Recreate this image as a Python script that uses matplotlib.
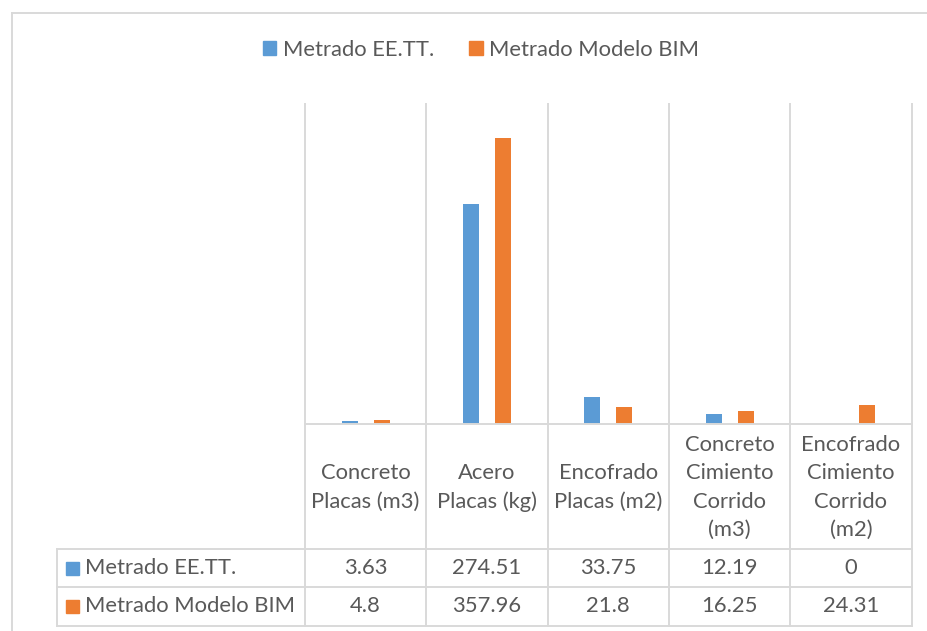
import numpy as np
import matplotlib
matplotlib.use("Agg")
import matplotlib.pyplot as plt
from matplotlib.patches import Rectangle, Patch
from matplotlib.lines import Line2D

plt.rcParams['font.family'] = ['Lato', 'DejaVu Sans']

# ---- data ----
categories = ["Concreto\nPlacas (m3)", "Acero\nPlacas (kg)", "Encofrado\nPlacas (m2)",
              "Concreto\nCimiento\nCorrido\n(m3)", "Encofrado\nCimiento\nCorrido\n(m2)"]
series_names = ["Metrado EE.TT.", "Metrado Modelo BIM"]
ee_tt = [3.63, 274.51, 33.75, 12.19, 0]
bim = [4.8, 357.96, 21.8, 16.25, 24.31]
y_max = 400

# ---- style ----
blue = "#5B9BD5"
orange = "#ED7D31"
grid_c = "#D9D9D9"
text_c = "#595959"
fs = 15.8

W, H = 928, 631
fig = plt.figure(figsize=(W / 100, H / 100), dpi=100)

# plot area in pixels
PL, PR, PT, PB = 305, 911.5, 104, 424
ax = fig.add_axes([PL / W, 1 - PB / H, (PR - PL) / W, (PB - PT) / H])
ax.axis('off')
ax.set_xlim(-0.5, len(categories) - 0.5)
ax.set_ylim(0, y_max)

x = np.arange(len(categories))
bw = 0.132
ax.bar(x - bw, ee_tt, width=bw, color=blue, zorder=3)
ax.bar(x + bw, bim, width=bw, color=orange, zorder=3)

tr = ax.get_xaxis_transform()
def ay(py):
    return (PB - py) / (PB - PT)
def dx(px):
    return (px - PL) / ((PR - PL) / len(categories)) - 0.5

# table geometry (pixels)
T_HEAD = 549
T_ROW1 = 587
T_BOT = 626
T_LEFT = 57

lw = 1.4
for b in np.arange(-0.5, len(categories), 1.0):
    ax.plot([b, b], [ay(T_BOT), 1], transform=tr, clip_on=False, color=grid_c, lw=lw, zorder=1)
ax.plot([-0.5, len(categories) - 0.5], [0, 0], transform=tr, clip_on=False, color=grid_c, lw=lw, zorder=4)
for py in (T_HEAD, T_ROW1, T_BOT):
    ax.plot([dx(T_LEFT), len(categories) - 0.5], [ay(py), ay(py)], transform=tr,
            clip_on=False, color=grid_c, lw=lw, zorder=1)
ax.plot([dx(T_LEFT), dx(T_LEFT)], [ay(T_HEAD), ay(T_BOT)], transform=tr, clip_on=False,
        color=grid_c, lw=lw, zorder=1)

# header texts
for i, cat in enumerate(categories):
    ax.text(i, ay((PB + T_HEAD) / 2 + 1), cat, transform=tr, ha='center', va='center',
            color=text_c, fontsize=fs, linespacing=1.52)

# data rows
rows = [(series_names[0], ee_tt, blue, (T_HEAD + T_ROW1) / 2),
        (series_names[1], bim, orange, (T_ROW1 + T_BOT) / 2)]
for name, vals, col, yc in rows:
    sq = 13
    ax.add_patch(Rectangle((dx(66), ay(yc + sq / 2)), dx(66 + sq) - dx(66), ay(yc - sq / 2) - ay(yc + sq / 2),
                           transform=tr, clip_on=False, color=col))
    ax.text(dx(85), ay(yc), name, transform=tr, ha='left', va='center', color=text_c, fontsize=fs)
    for i, v in enumerate(vals):
        ax.text(i, ay(yc), f"{v:g}", transform=tr, ha='center', va='center', color=text_c, fontsize=fs)

# legend
handles = [Patch(color=blue), Patch(color=orange)]
fig.legend(handles, series_names, loc='center', bbox_to_anchor=(481 / W, 1 - 50 / H), ncol=2,
           frameon=False, fontsize=fs, labelcolor=text_c, handlelength=0.62, handleheight=0.62,
           handletextpad=0.3, columnspacing=1.6)

# outer chart border
fig.add_artist(Line2D([12 / W, 1], [1 - 13 / H, 1 - 13 / H], transform=fig.transFigure, color=grid_c, lw=lw))
fig.add_artist(Line2D([12 / W, 12 / W], [1 - 13 / H, 0], transform=fig.transFigure, color=grid_c, lw=lw))

fig.savefig("out.png", dpi=100)
